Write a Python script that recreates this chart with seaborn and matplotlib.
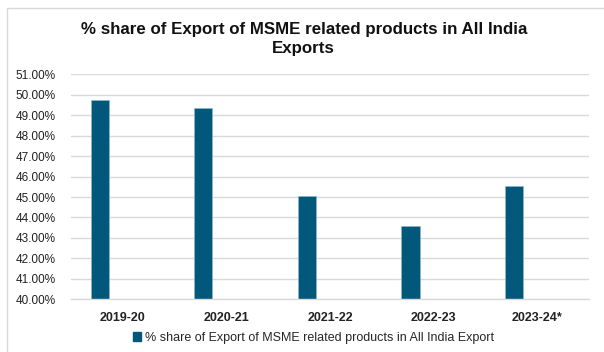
import matplotlib
matplotlib.use("Agg")
import matplotlib.pyplot as plt
from matplotlib.lines import Line2D
from matplotlib.patches import Patch
import pandas as pd
import seaborn as sns

years = ["2019-20", "2020-21", "2021-22", "2022-23", "2023-24*"]
share = [49.76, 49.33, 45.03, 43.58, 45.56]
series_name = "% share of Export of MSME related products in All India Export"
y_ticks = [40, 41, 42, 43, 44, 45, 46, 47, 48, 49, 50, 51]
title = "% share of Export of MSME related products in All India\nExports"

BAR = "#02587B"
GRID = "#D9D9D9"

sns.set_theme(style="white")
plt.rcParams["font.family"] = ["Liberation Sans", "DejaVu Sans"]

df = pd.DataFrame({"Year": years, "Share": share})

fig = plt.figure(figsize=(6.04, 3.52), dpi=100)
ax = fig.add_axes([71 / 604, 1 - 299.3 / 352, 518 / 604, 225 / 352])

sns.barplot(data=df, x="Year", y="Share", color=BAR, saturation=1,
            width=0.176, edgecolor="#8DB8CB", linewidth=0.5, ax=ax)
# bars sit left of the category centre (empty second series in the original)
for p in ax.patches:
    p.set_x(p.get_x() - 0.223)

ax.set_xlim(-0.5, len(years) - 0.5)
ax.set_ylim(40, 51)
ax.set_yticks(y_ticks)
ax.set_yticklabels([f"{v:.2f}%" for v in y_ticks], fontsize=8.5, color="#222222")
ax.set_xticks(range(len(years)))
ax.set_xticklabels(years, fontsize=9, fontweight="bold", color="#222222")
ax.tick_params(axis="both", length=0)
ax.tick_params(axis="x", pad=9)
ax.tick_params(axis="y", pad=11)
ax.set_xlabel("")
ax.set_ylabel("")
ax.yaxis.grid(True, color=GRID, linewidth=1)
ax.set_axisbelow(True)
for side in ["left", "right", "top"]:
    ax.spines[side].set_visible(False)
ax.spines["bottom"].set_color(GRID)
ax.spines["bottom"].set_linewidth(1)

fig.text(0.503, 1 - 22 / 352, title, ha="center", va="top", fontsize=12.2,
         fontweight="bold", color="#111111", linespacing=1.3)

fig.legend(handles=[Patch(facecolor=BAR, edgecolor=BAR)], labels=[series_name],
           loc="center", bbox_to_anchor=(0.519, 1 - 338 / 352), frameon=False,
           fontsize=9, handlelength=0.7, handleheight=0.7, handletextpad=0.3)

# chart-area frame (only top and left edges fall inside the image)
fig.add_artist(Line2D([7 / 604, 1.0], [1 - 8 / 352] * 2, color=GRID, linewidth=1,
                      transform=fig.transFigure))
fig.add_artist(Line2D([7 / 604] * 2, [0.0, 1 - 8 / 352], color=GRID, linewidth=1,
                      transform=fig.transFigure))

fig.savefig("out.png", dpi=100)
